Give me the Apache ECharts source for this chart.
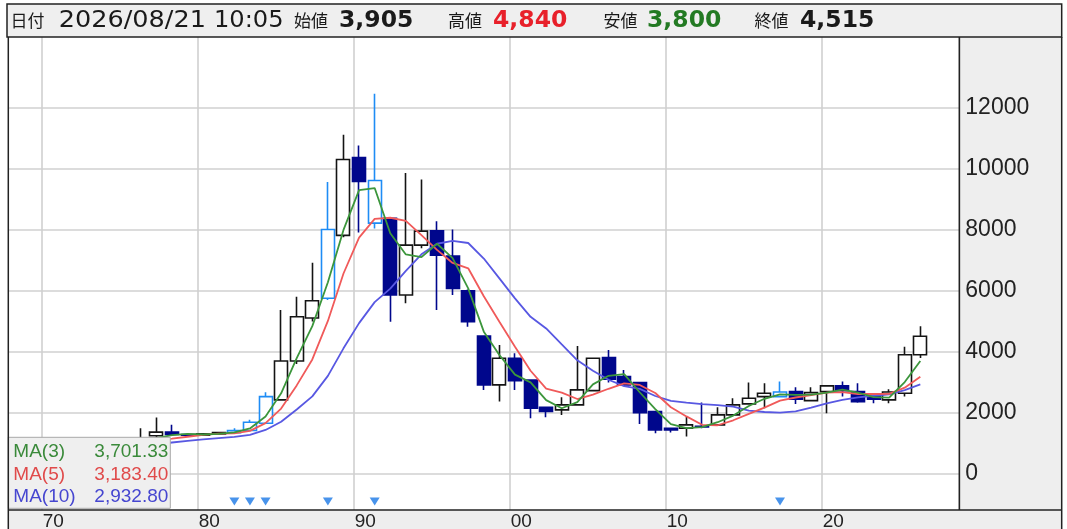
<!DOCTYPE html>
<html>
<head>
<meta charset="utf-8">
<script src="https://cdn.jsdelivr.net/npm/echarts@6/dist/echarts.min.js"></script>
<style>
html,body{margin:0;padding:0;background:#ffffff;}
#c{width:1067px;height:529px;}
</style>
</head>
<body>
<div id="c"></div>
<script>
// ---------------- DATA ----------------
// x-axis categories (one band per year; the last two years are empty)
const years = [1968,1969,1970,1971,1972,1973,1974,1975,1976,1977,
  1978,1979,1980,1981,1982,1983,1984,1985,1986,1987,
  1988,1989,1990,1991,1992,1993,1994,1995,1996,1997,
  1998,1999,2000,2001,2002,2003,2004,2005,2006,2007,
  2008,2009,2010,2011,2012,2013,2014,2015,2016,2017,
  2018,2019,2020,2021,2022,2023,2024,2025,2026,2027,2028];

// yearly candles 1968 .. 2026
const open  = [680,700,760,820,880,1050,1000,950,1000,1250,
  1366,1290,1270,1310,1350,1419,1661,2425,3700,5110,
  5758,7823,10376,9623,8380,5866,7504,7973,7144,6007,
  4522,2917,3791,3080,2186,2097,2261,2730,3811,3189,
  2992,2042,1497,1497,1560,1606,1933,2294,2533,2533,
  2697,2402,2697,2884,2697,2589,2425,2644,3905];
const close = [700,760,820,880,1050,1000,950,1000,1150,1366,
  1290,1270,1310,1350,1420,1694,2533,3700,5155,5679,
  8018,10311,9590,8226,5866,7504,7963,7177,6085,4991,
  2917,3791,3058,2153,2042,2261,2753,3791,3103,2917,
  2009,1442,1442,1606,1540,1933,2261,2481,2644,2685,
  2448,2664,2884,2730,2369,2444,2684,3905,4515];
const low   = [650,680,740,800,860,950,900,920,980,1200,
  1270,1240,1250,1290,1330,1400,1650,2400,3600,5000,
  5700,7760,7920,8052,4991,5594,7400,5374,5866,4827,
  2753,2369,2753,1825,1857,1933,2240,2700,3000,2880,
  1638,1333,1355,1222,1497,1580,1900,2280,2153,2500,
  2294,2380,1989,2533,2330,2317,2317,2533,3800];
const high  = [740,800,860,930,1100,1120,1050,1060,1497,1845,
  1606,1330,1340,1380,1497,1770,2677,5374,5810,6925,
  9579,11129,10770,12470,8400,9874,9657,8291,8018,6050,
  4540,4227,3955,3090,2200,2513,4195,3810,4063,3408,
  3000,2050,1510,1878,2337,2186,2481,2992,2972,3025,
  2841,2841,2900,3025,2972,2600,2776,4172,4840];

// years drawn in light blue, and the event markers under the plot
const highlightYears = [1982,1983,1984,1988,1991,2017];
const markerYears    = [1982,1983,1984,1988,1991,2017];

// axis ticks
const yTicks = [0,2000,4000,6000,8000,10000,12000];
const xDecades = [1970,1980,1990,2000,2010,2020];

const maPeriods = [3,5,10];
const headerDate = '2026/08/21';
const headerTime = '10:05';

// ---------------- LAYOUT / STYLE ----------------
const W = 1067, H = 529;
const PLOT_L = 8.3, PLOT_R = 959.3, PLOT_T = 37, PLOT_B = 510, PANEL_R = 1061.7;
const Y0PX = 473.8, PX_PER_UNIT = 0.030475;            // value-axis scale of the picture
const yPix = v => Y0PX - v * PX_PER_UNIT;
const Y_MIN = -2000;
const Y_MAX = (Y0PX - PLOT_T) / PX_PER_UNIT;
const EXT_BOTTOM = H - yPix(Y_MIN);                      // grid runs slightly below the canvas
const PX_PER_YEAR = 15.6, X_1970 = 41.7;
const V_LEFT = X_1970 - 10 * PX_PER_YEAR;                // where 1960 would sit
const X_MAX = 1970 + (PLOT_R - X_1970) / PX_PER_YEAR;
const MARKER_ROW_Y = 501.5;
const MARKER_LEVEL = (Y0PX - MARKER_ROW_Y) / PX_PER_UNIT;  // value level of the marker row

const UP_BORDER = '#141414', DOWN = '#00078c', LIGHT = '#1e8cf5';
const MA_COLORS = ['#3c963c', '#f05a5a', '#5858e2'];
const LEGEND_COLORS = ['#3a8a3a', '#e04a4a', '#4646d0'];
const GRID_COLOR = '#d0d0d0';
const FONT = '"Liberation Sans", Arial, sans-serif';
const HFONT = '"DejaVu Sans", sans-serif';
const CJK = '"Noto Sans CJK JP", sans-serif';

function fmtInt(n) { return String(Math.round(n)).replace(/\B(?=(\d{3})+(?!\d))/g, ','); }
function fmt2(n) { const p = n.toFixed(2).split('.'); return p[0].replace(/\B(?=(\d{3})+(?!\d))/g, ',') + '.' + p[1]; }

function movingAverage(period) {
  return close.map((_, i) => {
    if (i < period - 1) return '-';
    let s = 0;
    for (let k = i - period + 1; k <= i; k++) s += close[k];
    return +(s / period).toFixed(2);
  });
}

const candleData = close.map((c, i) => {
  const item = { value: [open[i], c, low[i], high[i]] };
  if (highlightYears.indexOf(years[i]) >= 0) {
    item.itemStyle = { color: '#ffffff', color0: LIGHT, borderColor: LIGHT, borderColor0: LIGHT };
  }
  return item;
});

const maSeries = maPeriods.map(p => ({ name: 'MA(' + p + ')', data: movingAverage(p) }));
const maLast = maSeries.map(s => s.data[s.data.length - 1]);

const markerData = markerYears.map(y => [years.indexOf(y), MARKER_LEVEL]);

const last = close.length - 1;

const chart = echarts.init(document.getElementById('c'), null, { renderer: 'canvas' });

const hiddenAxis = { show: false, axisLine: {show:false}, axisTick: {show:false}, axisLabel: {show:false}, splitLine: {show:false} };

function richRow(k) {
  const base = { color: LEGEND_COLORS[k], fontFamily: FONT, fontSize: 19, lineHeight: 19 };
  return [Object.assign({ width: 80 }, base), Object.assign({ width: 75, align: 'right' }, base)];
}
const rich = {};
[0,1,2].forEach(k => { const r = richRow(k); rich['n' + k] = r[0]; rich['v' + k] = r[1]; });

function headerText(text, x, font, fill, scaleX) {
  return { type: 'text', z: 101, x: x, y: 21, scaleX: scaleX || 1,
    style: { text: text, x: 0, y: 0, font: font, fill: fill, verticalAlign: 'middle', textVerticalAlign: 'middle' } };
}

const option = {
  animation: false,
  backgroundColor: '#ffffff',
  grid: [
    { left: PLOT_L, right: W - PLOT_R, top: PLOT_T, bottom: EXT_BOTTOM, containLabel: false, outerBoundsMode: 'none' },
    { left: V_LEFT, right: W - PLOT_R, top: PLOT_T, bottom: H - PLOT_B, containLabel: false, outerBoundsMode: 'none' },
    { left: PLOT_L, right: W - PLOT_R, top: yPix(12000), bottom: EXT_BOTTOM, containLabel: false, outerBoundsMode: 'none' }
  ],
  xAxis: [
    Object.assign({ type: 'category', gridIndex: 0, data: years.map(String), boundaryGap: true }, hiddenAxis),
    { type: 'value', gridIndex: 1, min: 1960, max: X_MAX, interval: 10,
      axisLine: {show:false}, axisTick: {show:false},
      splitLine: { show: true, lineStyle: { color: GRID_COLOR, width: 1.6 } },
      axisLabel: { show: true, showMinLabel: false, showMaxLabel: false, align: 'left', margin: 2,
        padding: [0,0,0,1], fontSize: 19, fontFamily: FONT, color: '#222',
        formatter: v => xDecades.indexOf(v) >= 0 ? String(v % 100).padStart(2, '0') : '' } },
    Object.assign({ type: 'value', gridIndex: 2, min: 0, max: 1 }, hiddenAxis)
  ],
  yAxis: [
    Object.assign({ type: 'value', gridIndex: 0, min: Y_MIN, max: Y_MAX }, hiddenAxis),
    Object.assign({ type: 'value', gridIndex: 1, min: 0, max: 1 }, hiddenAxis),
    { type: 'value', gridIndex: 2, position: 'right', min: Y_MIN, max: 12000, interval: 2000,
      axisLine: {show:false}, axisTick: {show:false},
      splitLine: { show: true, lineStyle: { color: GRID_COLOR, width: 1.6 } },
      axisLabel: { show: true, showMinLabel: false, margin: 6, fontSize: 23, fontFamily: FONT, color: '#222',
        formatter: v => yTicks.indexOf(v) >= 0 ? String(v) : '' } }
  ],
  legend: {
    show: true, orient: 'vertical', left: PLOT_L, top: 437.3,
    data: maSeries.map(s => ({ name: s.name })),
    selectedMode: false, icon: 'rect', itemWidth: 0, itemHeight: 0, itemGap: 3.5,
    padding: [5, 2, 2, 0],
    backgroundColor: '#efefef', borderColor: '#a8a8a8', borderWidth: 1, borderRadius: 0,
    z: 20,
    formatter: name => {
      const k = maSeries.findIndex(s => s.name === name);
      return '{n' + k + '|' + name + '}{v' + k + '|' + fmt2(maLast[k]) + '}';
    },
    textStyle: { fontFamily: FONT, fontSize: 19, rich: rich }
  },
  series: [
    { type: 'candlestick', name: 'price', xAxisIndex: 0, yAxisIndex: 0, data: candleData,
      barWidth: 13.5, z: 2,
      itemStyle: { color: '#ffffff', color0: DOWN, borderColor: UP_BORDER, borderColor0: DOWN, borderWidth: 1.6 } },
    ...maSeries.slice().reverse().map((s, j) => {
      const k = maSeries.length - 1 - j;
      return { type: 'line', name: s.name, xAxisIndex: 0, yAxisIndex: 0, data: s.data,
        symbol: 'none', showSymbol: false, smooth: false, z: 3 + j,
        lineStyle: { color: MA_COLORS[k], width: 1.8 }, itemStyle: { color: MA_COLORS[k] } };
    }),
    { type: 'scatter', name: 'events', xAxisIndex: 0, yAxisIndex: 0, data: markerData,
      symbol: 'triangle', symbolRotate: 180, symbolSize: [10, 8], z: 6,
      itemStyle: { color: '#1a78e6' } }
  ],
  graphic: { elements: [
    // backgrounds
    { type: 'rect', z: -100, shape: { x: PLOT_R, y: PLOT_T, width: PANEL_R - PLOT_R, height: PLOT_B - PLOT_T }, style: { fill: '#eeeeee' } },
    { type: 'rect', z: -100, shape: { x: PLOT_L, y: PLOT_B, width: PANEL_R - PLOT_L, height: H - PLOT_B }, style: { fill: '#eeeeee' } },
    // frame
    { type: 'line', z: 100, shape: { x1: PLOT_L, y1: PLOT_T, x2: PLOT_L, y2: H }, style: { stroke: '#222', lineWidth: 1.5 } },
    { type: 'line', z: 100, shape: { x1: PLOT_L, y1: PLOT_B, x2: PANEL_R, y2: PLOT_B }, style: { stroke: '#222', lineWidth: 1.5 } },
    { type: 'line', z: 100, shape: { x1: PLOT_R, y1: PLOT_T, x2: PLOT_R, y2: PLOT_B }, style: { stroke: '#222', lineWidth: 1.5 } },
    { type: 'line', z: 100, shape: { x1: PANEL_R, y1: PLOT_T, x2: PANEL_R, y2: H }, style: { stroke: '#222', lineWidth: 1.5 } },
    // header
    { type: 'rect', z: 100, shape: { x: 7, y: 4, width: PANEL_R - 7, height: 33 }, style: { fill: '#efefef', stroke: '#222', lineWidth: 1.5 } },
    headerText('日付', 10.4, '17px ' + CJK, '#1a1a1a'),
    headerText(headerDate, 58.8, '23px ' + HFONT, '#1a1a1a', 1.11),
    headerText(headerTime, 214, '23px ' + HFONT, '#1a1a1a', 1.05),
    headerText('始値', 294, '17px ' + CJK, '#1a1a1a'),
    headerText(fmtInt(open[last]), 339, 'bold 23.5px ' + HFONT, '#1a1a1a'),
    headerText('高値', 448, '17px ' + CJK, '#1a1a1a'),
    headerText(fmtInt(high[last]), 493, 'bold 23.5px ' + HFONT, '#e8202a'),
    headerText('安値', 603.6, '17px ' + CJK, '#1a1a1a'),
    headerText(fmtInt(low[last]), 647, 'bold 23.5px ' + HFONT, '#237a23'),
    headerText('終値', 754.5, '17px ' + CJK, '#1a1a1a'),
    headerText(fmtInt(close[last]), 800, 'bold 23.5px ' + HFONT, '#1a1a1a')
  ] }
};

chart.setOption(option);
</script>
</body>
</html>
